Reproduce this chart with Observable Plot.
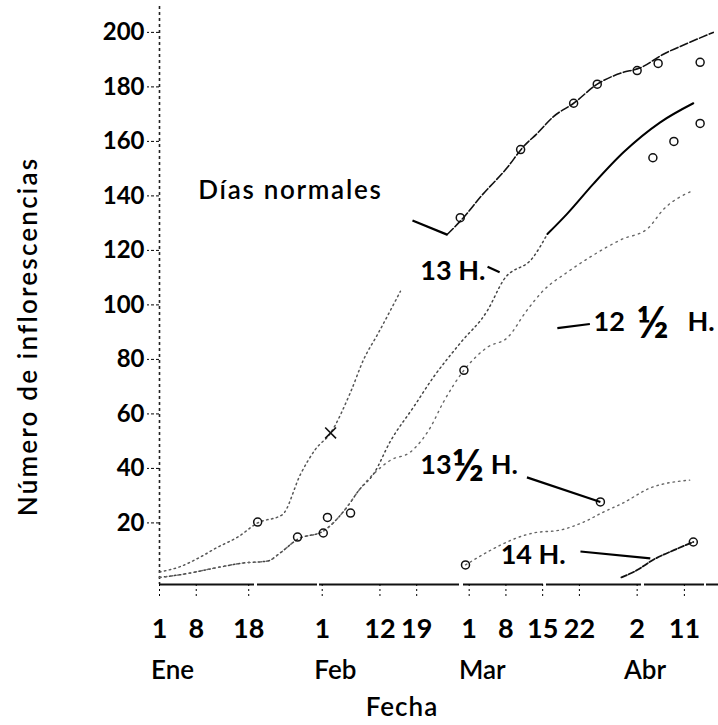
<!DOCTYPE html>
<html>
<head>
<meta charset="utf-8">
<script src="https://cdn.jsdelivr.net/npm/d3@7"></script>
<script src="https://cdn.jsdelivr.net/npm/@observablehq/plot@0.6"></script>
<style>
  html, body { margin: 0; padding: 0; background: #fff; overflow: hidden; }
  #chart svg { display: block; }
</style>
</head>
<body>
<div id="chart"></div>
<script>
// ---------- axis data ----------
const tickDays   = [0, 7, 17, 31, 42, 49, 59, 66, 73, 80, 91, 100]; // days since 1 Jan
const tickLabels = ["1", "8", "18", "1", "12", "19", "1", "8", "15", "22", "2", "11"];
const monthNames = ["Ene", "Feb", "Mar", "Abr"];
const monthStart = [0, 31, 59, 90];
const yTicks     = [20, 40, 60, 80, 100, 120, 140, 160, 180, 200];

// ---------- series (day since 1 Jan, number of inflorescences) ----------
const normalesDia = [0, 4, 7.8, 11, 14.9, 18.7, 23.4, 26.9, 29.7, 32.6, 36.4, 38.9, 41.5, 45.9, 54.9, 57.9, 61.1, 66.3, 69.3, 72, 75, 78.9, 83.4, 87.8, 91.6, 96, 100.6, 105.5];
const normalesNum = [2, 4, 7.5, 11, 14.8, 20, 23, 38, 47, 53, 68, 80, 89, 105, 126, 132, 139.5, 150.5, 158, 163, 169, 174, 181, 185, 187, 192, 196, 200];

const h13Dia = [0, 4, 10.7, 16, 20.6, 23, 26.3, 31.2, 35.8, 38, 40.8, 44, 48.4, 52.2, 57.3, 62.5, 65.5, 71.2, 73.9, 77.7, 82.7, 88.4, 95.4, 101.7];
const h13Num = [0, 1, 3.5, 5.3, 6, 9, 14, 17, 26, 32, 38, 50, 62.5, 73.5, 86, 98, 109, 117.5, 126, 133.5, 144.5, 156, 167, 174];

const h125Dia = [0, 4, 10.7, 16, 20.6, 23, 26.3, 31.2, 35.8, 38, 40.8, 44, 47.8, 51.6, 54, 58, 62.5, 66.3, 70, 73, 77.7, 82, 88, 93, 96, 101.7];
const h125Num = [0, 1, 3.5, 5.3, 6, 9, 14, 17, 26, 32, 38, 43, 46, 55, 64, 76, 84.5, 88, 98, 105, 112, 117.5, 124, 128, 135, 142];

const h135Dia = [58.3, 71.2, 76.4, 80.8, 84.6, 88, 93.5, 101];
const h135Num = [4.6, 16.3, 17.4, 20.3, 24, 27, 32.8, 35.7];

const h14Dia = [88, 91, 94, 98, 101.7];
const h14Num = [0, 2.7, 6.4, 10, 13];

// observed points drawn as small circles / a cross
const circDia = [18.7, 26.3, 31.2, 32, 36.4, 58, 57.3, 68.8, 78.9, 83.4, 91, 95, 103, 94, 98, 103, 84, 58.3, 101.7];
const circNum = [20.3, 14.8, 16.3, 22, 23.6, 76, 132, 157, 174, 181, 186, 188.6, 189, 154, 160, 166.6, 27.7, 4.6, 13];
const crossDia = [32.6];
const crossNum = [53];

// curve labels and their leader strokes
const labelText = ["Días normales", "13 H.", "12 ½ H.", "13½ H.", "14 H."];
const labelDia  = [7.4, 49.7, 82.7, 49.7, 65];
const labelNum  = [142, 112.3, 93.5, 41, 8];
const leaderDia1 = [48.2, 62.5, 75.8, 70, 80.2];
const leaderNum1 = [131, 114, 91.5, 36.7, 9.5];
const leaderDia2 = [54.9, 64.8, 82, 84, 93.5];
const leaderNum2 = [125.7, 112, 93, 27.7, 7];

// ---------- build tables ----------
const rows = (ds, vs) => ds.map((d, i) => ({dia: d, num: vs[i]}));
const normales = rows(normalesDia, normalesNum);
const h13 = rows(h13Dia, h13Num);
const h125 = rows(h125Dia, h125Num);
const h135 = rows(h135Dia, h135Num);
const h14 = rows(h14Dia, h14Num);
const circles = rows(circDia, circNum);
const crosses = rows(crossDia, crossNum);
const labels = labelText.map((t, i) => ({t, dia: labelDia[i], num: labelNum[i]}));
const leaders = leaderDia1.map((d, i) => ({x1: d, y1: leaderNum1[i], x2: leaderDia2[i], y2: leaderNum2[i]}));
const months = monthNames.map((m, i) => ({m, dia: monthStart[i]}));

const yMin = -2.6, yMax = 209.5, xMax = 106.5;
const font = "Lato, 'Open Sans', sans-serif";

const chart = Plot.plot({
  width: 718,
  height: 725,
  marginLeft: 159,
  marginRight: 0,
  marginTop: 6,
  marginBottom: 141,
  x: {domain: [0, xMax]},
  y: {domain: [yMin, yMax]},
  style: {fontFamily: font, background: "#fff", color: "#000", overflow: "visible"},
  marks: [
    // axes lines
    Plot.ruleX([0], {stroke: "#222", strokeWidth: 1.6, strokeDasharray: "3,3"}),
    Plot.ruleY([yMin], {stroke: "#111", strokeWidth: 2.2, strokeDasharray: "95,3,60,2,140,4,80,3"}),
    Plot.axisY(yTicks, {tickSize: 12, tickPadding: 3, fontSize: 24, fontWeight: "bold", strokeDasharray: "3,2", label: null}),
    Plot.axisX(tickDays, {tickSize: 12, tickPadding: 22, strokeDasharray: "2,3",
      tickFormat: d => tickLabels[tickDays.indexOf(d)], fontSize: 27, fontWeight: "bold", label: null}),
    Plot.text(months, {x: d => d.dia + 2.5, text: "m", frameAnchor: "bottom", lineAnchor: "bottom", dy: 94, fontSize: 26, fontWeight: 600}),
    Plot.text(["Fecha"], {frameAnchor: "bottom", dx: -37, dy: 131, lineAnchor: "bottom", fontSize: 26, fontWeight: 600}),
    Plot.text(["Número de inflorescencias"], {frameAnchor: "left", textAnchor: "middle", rotate: -90, dx: -131, dy: 41, fontSize: 26, fontWeight: 600}),

    // curves
    Plot.line(normales.filter(d => d.dia <= 46), {x: "dia", y: "num", curve: "monotone-x", stroke: "#555", strokeWidth: 1.5, strokeDasharray: "1.5,3.5"}),
    Plot.line(normales.filter(d => d.dia >= 54), {x: "dia", y: "num", curve: "monotone-x", stroke: "#111", strokeWidth: 1.6, strokeDasharray: "8,2.5"}),
    Plot.line(h13.filter(d => d.dia <= 74), {x: "dia", y: "num", curve: "monotone-x", stroke: "#444", strokeWidth: 1.5, strokeDasharray: "1.5,3.5"}),
    Plot.line(h13.filter(d => d.dia >= 73.9), {x: "dia", y: "num", curve: "monotone-x", stroke: "#000", strokeWidth: 2}),
    Plot.line(h125, {x: "dia", y: "num", curve: "monotone-x", stroke: "#666", strokeWidth: 1.4, strokeDasharray: "1.5,4.5"}),
    Plot.line(h135, {x: "dia", y: "num", curve: "monotone-x", stroke: "#666", strokeWidth: 1.4, strokeDasharray: "1.5,4"}),
    Plot.line(h14, {x: "dia", y: "num", curve: "monotone-x", stroke: "#111", strokeWidth: 1.8, strokeDasharray: "6,2"}),

    // observed points
    Plot.dot(circles, {x: "dia", y: "num", r: 4, stroke: "#111", strokeWidth: 1.5, fill: "none"}),
    Plot.dot(crosses, {x: "dia", y: "num", r: 5, symbol: "times", stroke: "#111", strokeWidth: 1.6}),

    // leaders and labels
    Plot.link(leaders, {x1: "x1", y1: "y1", x2: "x2", y2: "y2", stroke: "#000", strokeWidth: 2.2}),
    Plot.text(labels.filter(d => d.t === "Días normales"), {x: "dia", y: "num", text: "t", textAnchor: "start", fontSize: 26, fontWeight: 600}),
    Plot.text(labels.filter(d => d.t !== "Días normales"), {x: "dia", y: "num", text: "t", textAnchor: "start", fontSize: 27, fontWeight: "bold"})
  ]
});

// letter spacing of the printed titles (not a Plot option, so applied to the rendered text)
const spacing = {"Días normales": "1.7px", "Número de inflorescencias": "2.2px", "Fecha": "1px"};
chart.querySelectorAll("text").forEach(t => {
  const s = t.textContent;
  if (spacing[s]) t.style.letterSpacing = spacing[s];
});

// enlarge the "½" glyph inside the curve labels, as in the printed figure
chart.querySelectorAll("text").forEach(t => {
  if (t.querySelector("tspan")) return;
  const s = t.textContent;
  if (!s.includes("½")) return;
  const [a, b] = s.split("½");
  const spaced = a.endsWith(" ");
  t.textContent = "";
  const ns = "http://www.w3.org/2000/svg";
  const p1 = document.createElementNS(ns, "tspan"); p1.textContent = a;
  const p2 = document.createElementNS(ns, "tspan"); p2.textContent = "½";
  p2.setAttribute("font-size", "44"); p2.setAttribute("dy", "7");
  if (spaced) p2.setAttribute("dx", "5");
  const p3 = document.createElementNS(ns, "tspan"); p3.textContent = b;
  p3.setAttribute("dy", "-7");
  if (spaced) p3.setAttribute("dx", "12");
  t.append(p1, p2, p3);
});
document.getElementById("chart").appendChild(chart);
</script>
</body>
</html>
